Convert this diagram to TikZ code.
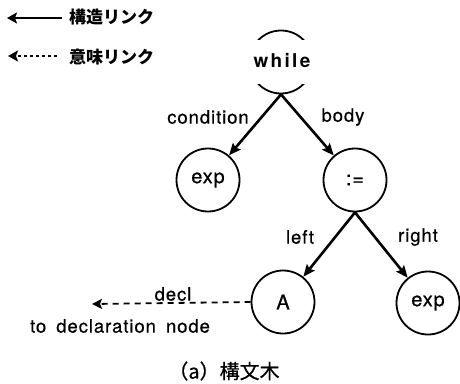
\documentclass[tikz,border=0pt]{standalone}
\usepackage{fontspec}
\setmainfont{TeX Gyre Heros}
\newfontfamily\cjk{Noto Sans CJK JP}
\usetikzlibrary{arrows.meta}
\begin{document}
\begin{tikzpicture}[x=1pt,y=-1pt,
  nd/.style={circle,draw,line width=1.8pt,minimum size=63pt,inner sep=0pt,
    font=\fontsize{20}{22}\selectfont\addfontfeature{LetterSpace=4,FakeBold=0.6}},
  edge/.style={line width=2.6pt,-{Stealth[length=12pt,width=10pt,inset=2pt]}},
  lbl/.style={inner sep=0pt,font=\fontsize{18.5}{20}\selectfont\addfontfeature{LetterSpace=5,FakeBold=0.6}},
  jp/.style={inner sep=0pt,anchor=west,font=\cjk\bfseries\fontsize{17}{19}\selectfont},
  legsolid/.style={line width=2.2pt,-{Stealth[length=10pt,width=11pt,inset=2pt]}},
  legdot/.style={line width=2.2pt,dash pattern=on 3.5pt off 2.5pt,-{Stealth[length=10pt,width=11pt,inset=2pt]}},
  decl/.style={line width=1.8pt,dash pattern=on 6pt off 5pt,-{Stealth[length=10pt,width=10pt,inset=2pt]}}]
\useasboundingbox (0,0) rectangle (460,383);
% legend
\coordinate (l1s) at (62,18);
\coordinate (l1e) at (7,18);
\draw[legsolid] (l1s) -- (l1e);
\node[jp] (t1) at (69,17) {構造リンク};
\coordinate (l2s) at (57,56);
\coordinate (l2e) at (8,56);
\draw[legdot] (l2s) -- (l2e);
\node[jp] (t2) at (69,57) {意味リンク};
% nodes
\node[nd] (while) at (281,62) {};
\fill[white] (247,40) rectangle (315,84);
\node[inner sep=0pt,font=\bfseries\fontsize{19}{21}\selectfont\addfontfeature{LetterSpace=12}] (wtext) at (282,61) {while};
\node[nd] (exp1) at (208,180) {exp};
\node[nd] (assign) at (355,180) {:=};
\node[nd] (A) at (283,302) {A};
\node[nd] (exp2) at (428,303) {exp};
% edges
\draw[edge] (while.south) -- (exp1);
\draw[edge] (while.south) -- (assign);
\draw[edge] (assign.south) -- (A);
\draw[edge] (assign.south) -- (exp2);
\coordinate (declend) at (92,304);
\draw[decl] (A.west) -- (declend);
% labels
\node[lbl] (lcond) at (208,117) {condition};
\node[lbl] (lbody) at (343,117) {body};
\node[lbl] (lleft) at (300,237) {left};
\node[lbl] (lright) at (418,237) {right};
\node[lbl] (ldecl) at (173,294) {decl};
\node[lbl] (lto) at (120,326) {to\hspace{4pt} declaration\hspace{4pt} node};
% caption
\node[inner sep=0pt,font=\cjk\fontsize{20}{22}\selectfont\addfontfeature{FakeBold=0.5}] (cap) at (224,371) {（a）構文木};
\end{tikzpicture}
\end{document}
